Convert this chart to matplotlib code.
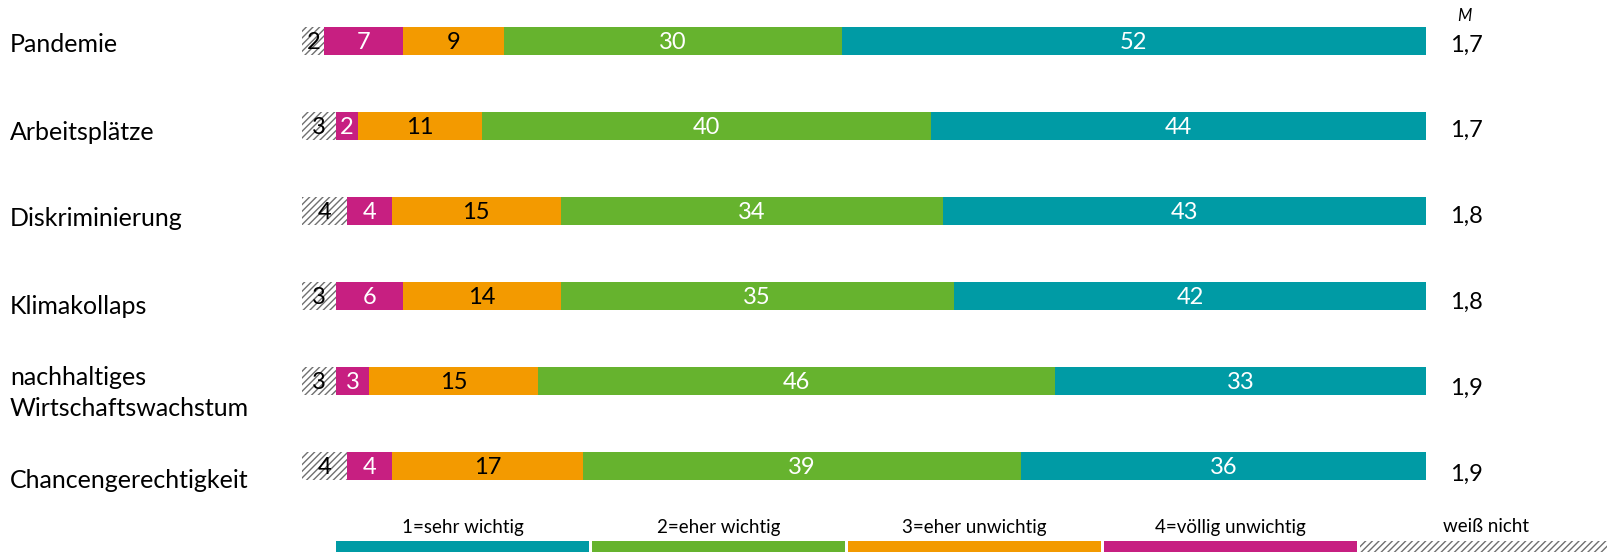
import matplotlib
matplotlib.use("Agg")
import matplotlib.pyplot as plt
from matplotlib.patches import Rectangle
import matplotlib.transforms as mtransforms

plt.rcParams['font.family'] = ['Lato', 'DejaVu Sans']
plt.rcParams['hatch.linewidth'] = 1.0

categories = ["Pandemie", "Arbeitsplätze", "Diskriminierung", "Klimakollaps",
              "nachhaltiges\nWirtschaftswachstum", "Chancengerechtigkeit"]
weiss_nicht = [2, 3, 4, 3, 3, 4]
voellig_unwichtig = [7, 2, 4, 6, 3, 4]
eher_unwichtig = [9, 11, 15, 14, 15, 17]
eher_wichtig = [30, 40, 34, 35, 46, 39]
sehr_wichtig = [52, 44, 43, 42, 33, 36]
means = ["1,7", "1,7", "1,8", "1,8", "1,9", "1,9"]

legend_labels = ["1=sehr wichtig", "2=eher wichtig", "3=eher unwichtig",
                 "4=völlig unwichtig", "weiß nicht"]

C_TEAL = "#009BA5"
C_GREEN = "#66B32E"
C_ORANGE = "#F39A00"
C_MAGENTA = "#C71F81"
HATCH_COL = "#707070"
HATCH = "/////"

W, H = 1608, 552
fig = plt.figure(figsize=(W / 100, H / 100), dpi=100)
ax = fig.add_axes([302 / W, 0, 1124 / W, 1])
ax.set_xlim(0, 100)
ax.set_ylim((H - 41) / 85, -41 / 85)
ax.axis("off")

ypos = list(range(len(categories)))
bh = 0.33

series = [
    (weiss_nicht, "white", "black", True),
    (voellig_unwichtig, C_MAGENTA, "white", False),
    (eher_unwichtig, C_ORANGE, "black", False),
    (eher_wichtig, C_GREEN, "white", False),
    (sehr_wichtig, C_TEAL, "white", False),
]

left = [0.0] * len(categories)
for vals, col, tcol, hatched in series:
    if hatched:
        ax.barh(ypos, vals, left=left, height=bh, color="white",
                edgecolor=HATCH_COL, linewidth=0, hatch=HATCH)
    else:
        ax.barh(ypos, vals, left=left, height=bh, color=col, linewidth=0)
    for i, v in enumerate(vals):
        ax.text(left[i] + v / 2, ypos[i] + 0.02, str(v), ha="center",
                va="center", color=tcol, fontsize=17)
    left = [l + v for l, v in zip(left, vals)]

for i, c in enumerate(categories):
    yp = 45 + 87 * i
    fig.text(10 / W, 1 - yp / H, c, ha="left", va="center",
             fontsize=18, linespacing=1.45)

# mean values
for i, m in enumerate(means):
    yp = 45 + 85.8 * i
    fig.text(1466 / W, 1 - yp / H, m, ha="center", va="center", fontsize=17)
fig.text(1464 / W, 1 - 16 / H, "M", ha="center", va="center",
         fontsize=12, style="italic")

# legend strips
leg_cols = [C_TEAL, C_GREEN, C_ORANGE, C_MAGENTA, None]
for k, (lab, col) in enumerate(zip(legend_labels, leg_cols)):
    x0 = 336 + k * 256
    w = 253 if k < 4 else W - x0
    if col is None:
        r = Rectangle((x0 / W, 0), w / W, 11 / H, transform=fig.transFigure,
                      facecolor="white", edgecolor=HATCH_COL, linewidth=0,
                      hatch=HATCH)
    else:
        r = Rectangle((x0 / W, 0), w / W, 11 / H, transform=fig.transFigure,
                      facecolor=col, linewidth=0)
    fig.add_artist(r)
    xc = x0 + (253 / 2)
    fig.text(xc / W, 1 - 527 / H, lab, ha="center", va="center", fontsize=13.5)

fig.savefig("out.png", dpi=100)
